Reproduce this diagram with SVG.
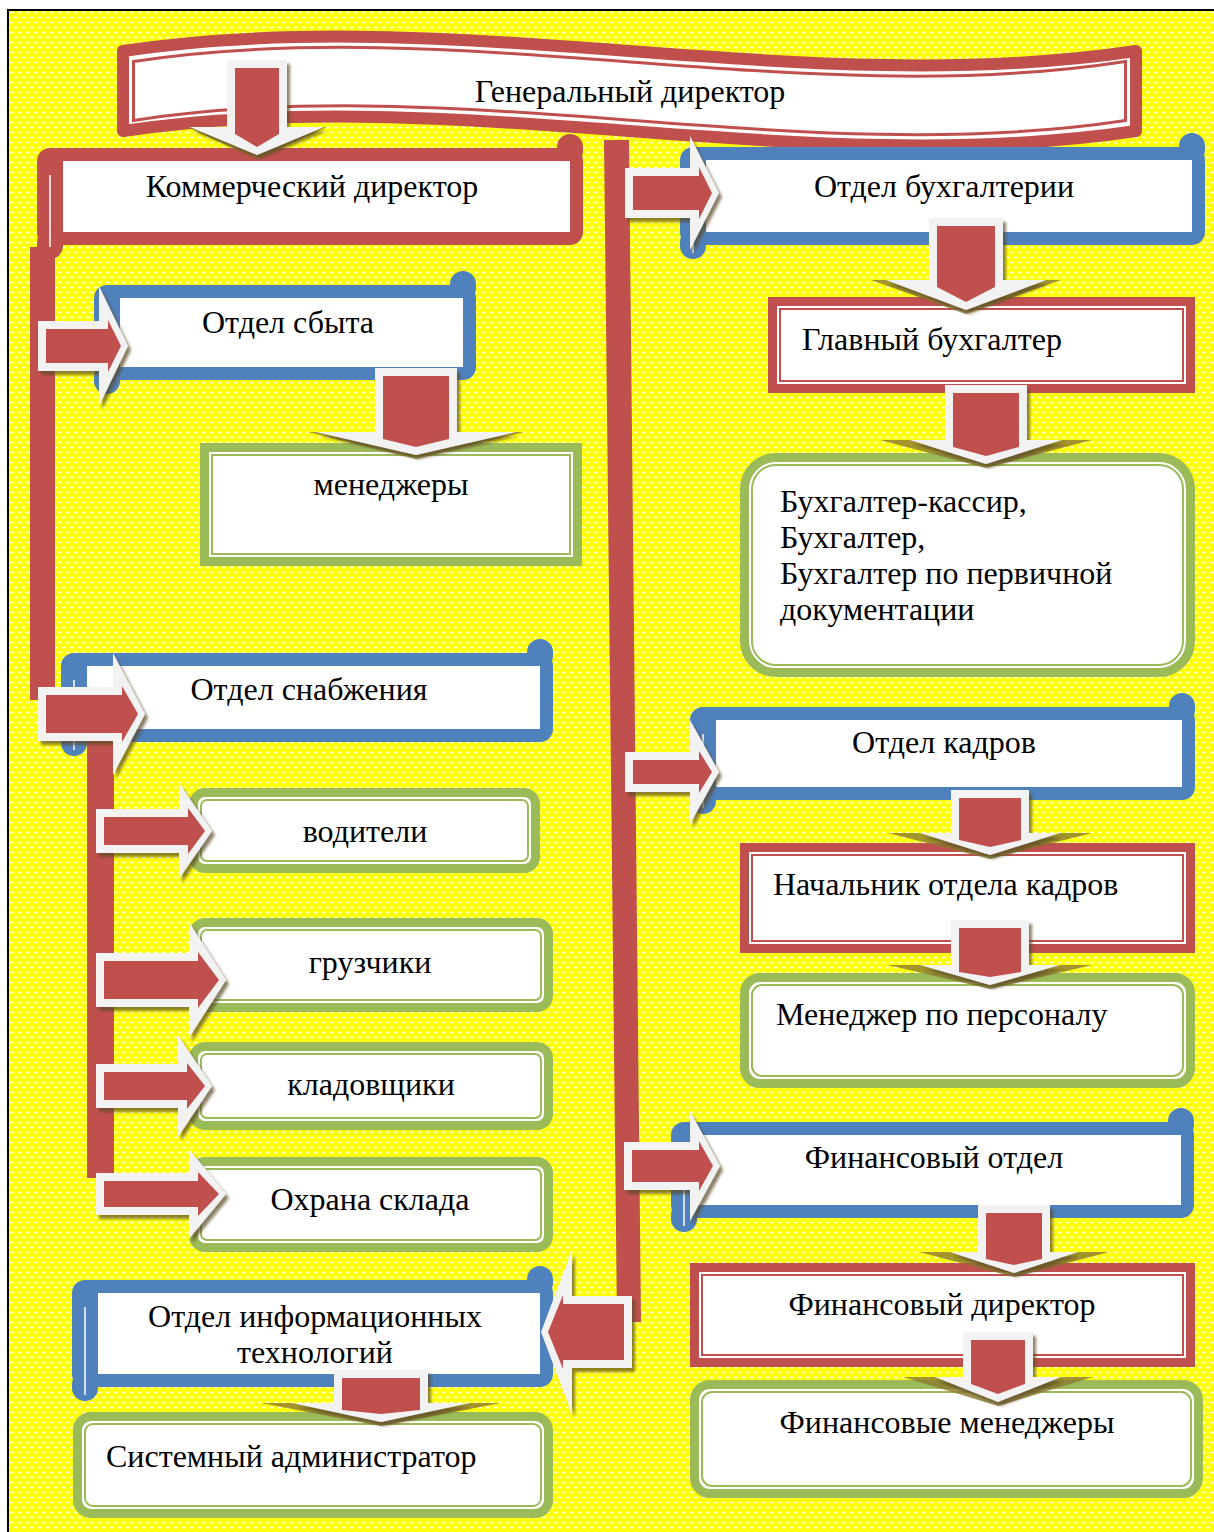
<svg xmlns="http://www.w3.org/2000/svg" width="1214" height="1532" viewBox="0 0 1214 1532">
<defs>
<pattern id="bgp" width="8" height="10" patternUnits="userSpaceOnUse">
<rect width="8" height="10" fill="#FFFF00"/>
<ellipse cx="4" cy="2.5" rx="2.4" ry="1.1" fill="#fff" opacity="0.8"/>
<ellipse cx="0" cy="7.5" rx="2.4" ry="1.1" fill="#fff" opacity="0.8"/>
<ellipse cx="8" cy="7.5" rx="2.4" ry="1.1" fill="#fff" opacity="0.8"/>
</pattern>
<filter id="ash" x="-20%" y="-20%" width="150%" height="150%">
<feDropShadow dx="3" dy="4" stdDeviation="1.5" flood-color="#5a4820" flood-opacity="0.7"/>
</filter>
</defs>
<style>
.t{font-family:"Liberation Serif","Times New Roman",serif;font-size:32px;fill:#000}
.c{text-anchor:middle}
.red{fill:#C0504D}
.blue{fill:#4F81BD}
.wh{fill:#fff}
.curl{stroke:#fff;stroke-width:1.5;fill:none}
.rf{fill:#fff;stroke:#C0504D;stroke-width:9}
.rl{fill:none;stroke:#C0504D;stroke-width:2}
.gf{fill:#fff;stroke:#9BBB59;stroke-width:9}
.gl{fill:none;stroke:#9BBB59;stroke-width:2}
.aw{fill:#F2F2F2;filter:url(#ash)}
.ar{fill:#C0504D}
.as{fill:#8C7A2E;opacity:.8}
.bar{fill:#C0504D}
</style>

<rect x="8" y="10" width="1206" height="1522" fill="url(#bgp)"/>
<path d="M7,10H1214M8,9V1532" stroke="#000" stroke-width="2" fill="none"/>

<g id="n-gen-director">
<path d="M123,51 C458,1 800,101 1136,51 L1136,131 C800,181 458,81 123,131 Z" fill="#fff" stroke="#C0504D" stroke-width="12" stroke-linejoin="round"/>
<path d="M133.5,61.5 C458,12 800,112 1125.5,61.5 L1125.5,120.5 C800,170 458,70 133.5,120.5 Z" fill="none" stroke="#C0504D" stroke-width="3"/>
<text class="t c" x="630" y="102">Генеральный директор</text>
</g>

<g id="n-kommerch">
<rect class="red" x="37" y="148" width="546" height="97" rx="13"/>
<rect class="red" x="557" y="134" width="26" height="30" rx="13"/>
<rect class="red" x="37" y="229" width="26" height="30" rx="13"/>
<rect class="wh" x="63" y="161" width="507" height="71"/>
<path class="curl" d="M50,175V253"/>
<text class="t c" x="312" y="197">Коммерческий директор</text>
</g>

<g id="n-sbyt">
<rect class="blue" x="94" y="285" width="382" height="95" rx="13"/>
<rect class="blue" x="450" y="271" width="26" height="30" rx="13"/>
<rect class="blue" x="94" y="364" width="26" height="30" rx="13"/>
<rect class="wh" x="120" y="298" width="343" height="69"/>
<path class="curl" d="M107,312V388"/>
<text class="t c" x="288" y="333">Отдел сбыта</text>
</g>

<g id="n-managers">
<rect class="gf" x="204.5" y="447.5" width="373" height="114"/>
<rect class="gl" x="212" y="455" width="358" height="99"/>
<text class="t c" x="391" y="495">менеджеры</text>
</g>

<g id="n-snab">
<rect class="blue" x="61" y="653" width="492" height="89" rx="13"/>
<rect class="blue" x="527" y="639" width="26" height="30" rx="13"/>
<rect class="blue" x="61" y="726" width="26" height="30" rx="13"/>
<rect class="wh" x="87" y="666" width="453" height="63"/>
<path class="curl" d="M74,680V750"/>
<text class="t c" x="309" y="700">Отдел снабжения</text>
</g>

<g id="n-drivers">
<rect class="gf" x="193.5" y="792.5" width="342" height="76" rx="11.5"/>
<rect class="gl" x="201" y="800" width="327" height="61" rx="6"/>
<text class="t c" x="365" y="842">водители</text>
</g>

<g id="n-loaders">
<rect class="gf" x="193.5" y="922.5" width="355" height="85" rx="11.5"/>
<rect class="gl" x="201" y="930" width="340" height="70" rx="6"/>
<text class="t c" x="370" y="973">грузчики</text>
</g>

<g id="n-storekeepers">
<rect class="gf" x="193.5" y="1046.5" width="355" height="79" rx="11.5"/>
<rect class="gl" x="201" y="1054" width="340" height="64" rx="6"/>
<text class="t c" x="371" y="1095">кладовщики</text>
</g>

<g id="n-guard">
<rect class="gf" x="193.5" y="1161.5" width="355" height="86" rx="11.5"/>
<rect class="gl" x="201" y="1169" width="340" height="71" rx="6"/>
<text class="t c" x="370" y="1210">Охрана склада</text>
</g>

<g id="n-it">
<rect class="blue" x="72" y="1280" width="481" height="107" rx="13"/>
<rect class="blue" x="527" y="1266" width="26" height="30" rx="13"/>
<rect class="blue" x="72" y="1371" width="26" height="30" rx="13"/>
<rect class="wh" x="98" y="1293" width="442" height="81"/>
<path class="curl" d="M85,1307V1395"/>
<text class="t c" x="315" y="1327">Отдел информационных</text>
<text class="t c" x="315" y="1363">технологий</text>
</g>

<g id="n-sysadmin">
<rect class="gf" x="77.5" y="1416.5" width="471" height="97" rx="13.5"/>
<rect class="gl" x="85" y="1424" width="456" height="82" rx="8"/>
<text class="t" x="106" y="1467">Системный администратор</text>
</g>

<g id="n-buh">
<rect class="blue" x="680" y="147" width="525" height="98" rx="13"/>
<rect class="blue" x="1179" y="133" width="26" height="30" rx="13"/>
<rect class="blue" x="680" y="229" width="26" height="30" rx="13"/>
<rect class="wh" x="706" y="160" width="486" height="72"/>
<path class="curl" d="M693,174V253"/>
<text class="t c" x="944" y="197">Отдел бухгалтерии</text>
</g>

<g id="n-chief-acc">
<rect class="rf" x="772.5" y="301.5" width="418" height="87"/>
<rect class="rl" x="780" y="309" width="403" height="72"/>
<text class="t" x="802" y="350">Главный бухгалтер</text>
</g>

<g id="n-accountants">
<rect class="gf" x="744.5" y="457.5" width="446" height="215" rx="31.5"/>
<rect class="gl" x="752" y="465" width="431" height="200" rx="24"/>
<text class="t" x="780" y="512">Бухгалтер-кассир,</text>
<text class="t" x="780" y="548">Бухгалтер,</text>
<text class="t" x="780" y="584">Бухгалтер по первичной</text>
<text class="t" x="780" y="620">документации</text>
</g>

<g id="n-hr">
<rect class="blue" x="690" y="707" width="505" height="93" rx="13"/>
<rect class="blue" x="1169" y="693" width="26" height="30" rx="13"/>
<rect class="blue" x="690" y="784" width="26" height="30" rx="13"/>
<rect class="wh" x="716" y="720" width="466" height="67"/>
<path class="curl" d="M703,734V808"/>
<text class="t c" x="944" y="753">Отдел кадров</text>
</g>

<g id="n-hr-head">
<rect class="rf" x="744.5" y="847.5" width="446" height="101"/>
<rect class="rl" x="752" y="855" width="431" height="86"/>
<text class="t" x="773" y="895">Начальник отдела кадров</text>
</g>

<g id="n-hr-manager">
<rect class="gf" x="744.5" y="977.5" width="446" height="106" rx="15.5"/>
<rect class="gl" x="752" y="985" width="431" height="91" rx="10"/>
<text class="t" x="776" y="1025">Менеджер по персоналу</text>
</g>

<g id="n-fin">
<rect class="blue" x="671" y="1122" width="523" height="96" rx="13"/>
<rect class="blue" x="1168" y="1108" width="26" height="30" rx="13"/>
<rect class="blue" x="671" y="1202" width="26" height="30" rx="13"/>
<rect class="wh" x="697" y="1135" width="484" height="70"/>
<path class="curl" d="M684,1149V1226"/>
<text class="t c" x="934" y="1168">Финансовый отдел</text>
</g>

<g id="n-fin-director">
<rect class="rf" x="694.5" y="1267.5" width="496" height="95"/>
<rect class="rl" x="702" y="1275" width="481" height="80"/>
<text class="t c" x="942" y="1315">Финансовый директор</text>
</g>

<g id="n-fin-managers">
<rect class="gf" x="694.5" y="1384.5" width="504" height="109" rx="15.5"/>
<rect class="gl" x="702" y="1392" width="489" height="94" rx="10"/>
<text class="t c" x="947" y="1433">Финансовые менеджеры</text>
</g>

<g id="connectors">
<rect class="bar" x="30" y="247" width="25" height="453"/>
<rect class="bar" x="87" y="737" width="27" height="441"/>
<polygon class="bar" points="604,140 629,140 641,1322 617,1322"/>

<g id="a-gd-k">
<polygon class="as" points="187,127 327,127 257,159"/>
<polygon class="aw" points="227,60 287,60 287,127 324,127 257,155 190,127 227,127"/>
<polygon class="ar" points="235,68 279,68 279,134 257,147 235,134"/>
</g>
<g id="a-k-sbyt">
<polygon class="aw" points="38,321 99,321 99,286 128,346 99,406 99,371 38,371"/>
<polygon class="ar" points="46,329 108,329 108,320 121,346 108,372 108,363 46,363"/>
</g>
<g id="a-sbyt-man">
<polygon class="as" points="308,432 524,432 416,459"/>
<polygon class="aw" points="375,368 457,368 457,432 516,432 416,455 316,432 375,432"/>
<polygon class="ar" points="383,376 449,376 449,439 416,447 383,439"/>
</g>
<g id="a-k-snab">
<polygon class="aw" points="38,687 113,687 113,653 145,714 113,775 113,741 38,741"/>
<polygon class="ar" points="46,695 122,695 122,686 138,714 122,742 122,733 46,733"/>
</g>
<g id="a-snab-drv">
<polygon class="aw" points="96,809 179,809 179,783 212,831 179,879 179,853 96,853"/>
<polygon class="ar" points="104,817 188,817 188,808 205,831 188,854 188,845 104,845"/>
</g>
<g id="a-snab-ldr">
<polygon class="aw" points="96,953 189,953 189,922 226,980 189,1038 189,1007 96,1007"/>
<polygon class="ar" points="104,961 198,961 198,952 219,980 198,1008 198,999 104,999"/>
</g>
<g id="a-snab-stk">
<polygon class="aw" points="96,1064 178,1064 178,1035 212,1086 178,1137 178,1108 96,1108"/>
<polygon class="ar" points="104,1072 187,1072 187,1063 205,1086 187,1109 187,1100 104,1100"/>
</g>
<g id="a-snab-grd">
<polygon class="aw" points="96,1173 189,1173 189,1149 226,1194 189,1239 189,1215 96,1215"/>
<polygon class="ar" points="104,1181 198,1181 198,1172 219,1194 198,1216 198,1207 104,1207"/>
</g>
<g id="a-gd-it">
<polygon class="aw" points="632,1296 572,1296 572,1250 541,1332 572,1414 572,1368 632,1368"/>
<polygon class="ar" points="624,1304 563,1304 563,1295 548,1332 563,1369 563,1360 624,1360"/>
</g>
<g id="a-it-sys">
<polygon class="as" points="261,1403 501,1403 381,1426"/>
<polygon class="aw" points="334,1370 428,1370 428,1403 470,1403 381,1422 292,1403 334,1403"/>
<polygon class="ar" points="342,1378 420,1378 420,1410 381,1414 342,1410"/>
</g>
<g id="a-gd-buh">
<polygon class="aw" points="625,168 690,168 690,136 719,193 690,250 690,218 625,218"/>
<polygon class="ar" points="633,176 699,176 699,167 712,193 699,219 699,210 633,210"/>
</g>
<g id="a-buh-chief">
<polygon class="as" points="871,280 1061,280 966,314"/>
<polygon class="aw" points="929,218 1003,218 1003,280 1046,280 966,310 886,280 929,280"/>
<polygon class="ar" points="937,226 995,226 995,287 966,302 937,287"/>
</g>
<g id="a-chief-acc">
<polygon class="as" points="880,440 1092,440 986,468"/>
<polygon class="aw" points="945,385 1027,385 1027,440 1062,440 986,464 910,440 945,440"/>
<polygon class="ar" points="953,393 1019,393 1019,447 986,456 953,447"/>
</g>
<g id="a-gd-hr">
<polygon class="aw" points="625,752 690,752 690,720 719,772 690,824 690,792 625,792"/>
<polygon class="ar" points="633,760 699,760 699,751 712,772 699,793 699,784 633,784"/>
</g>
<g id="a-hr-head">
<polygon class="as" points="888,833 1092,833 990,859"/>
<polygon class="aw" points="951,790 1029,790 1029,833 1060,833 990,855 920,833 951,833"/>
<polygon class="ar" points="959,798 1021,798 1021,840 990,847 959,840"/>
</g>
<g id="a-head-mgr">
<polygon class="as" points="888,965 1092,965 990,989"/>
<polygon class="aw" points="951,920 1029,920 1029,965 1060,965 990,985 920,965 951,965"/>
<polygon class="ar" points="959,928 1021,928 1021,972 990,977 959,972"/>
</g>
<g id="a-gd-fin">
<polygon class="aw" points="624,1142 690,1142 690,1111 720,1166 690,1221 690,1190 624,1190"/>
<polygon class="ar" points="632,1150 699,1150 699,1141 713,1166 699,1191 699,1182 632,1182"/>
</g>
<g id="a-fin-dir">
<polygon class="as" points="919,1252 1109,1252 1014,1277"/>
<polygon class="aw" points="978,1205 1050,1205 1050,1252 1078,1252 1014,1273 950,1252 978,1252"/>
<polygon class="ar" points="986,1213 1042,1213 1042,1259 1014,1265 986,1259"/>
</g>
<g id="a-dir-mgr">
<polygon class="as" points="903,1377 1093,1377 998,1406"/>
<polygon class="aw" points="963,1332 1033,1332 1033,1377 1061,1377 998,1402 935,1377 963,1377"/>
<polygon class="ar" points="971,1340 1025,1340 1025,1384 998,1394 971,1384"/>
</g>
</g>
</svg>
